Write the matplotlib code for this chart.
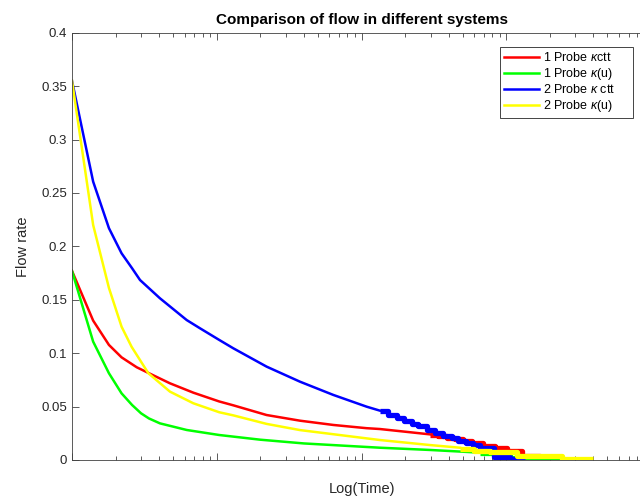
import matplotlib
matplotlib.use('Agg')
import matplotlib.pyplot as plt
from matplotlib.ticker import LogLocator, NullFormatter

plt.rcParams['font.family'] = ['Liberation Sans', 'DejaVu Sans']
plt.rcParams['mathtext.fontset'] = 'custom'
plt.rcParams['mathtext.rm'] = 'Liberation Sans'
plt.rcParams['mathtext.it'] = 'Liberation Sans:italic'

# smooth part of each flow curve
t_red = [1, 1.4, 1.8, 2.2, 2.8, 3.37, 4.75, 6.9, 10.4, 13, 22.1, 37.6, 63.9, 108, 134, 297]
q_red = [0.177, 0.1305, 0.1077, 0.0961, 0.0868, 0.0815, 0.0718, 0.063, 0.0548, 0.0512,
         0.0421, 0.0368, 0.0328, 0.0298, 0.029, 0.024]
t_green = [1, 1.4, 1.8, 2.2, 2.6, 3.0, 3.4, 4.05, 6.2, 10.4, 20, 40, 134, 297, 658]
q_green = [0.177, 0.1108, 0.0812, 0.0624, 0.0515, 0.0437, 0.0389, 0.0343, 0.0281, 0.0234,
           0.019, 0.0155, 0.0115, 0.0094, 0.0069]
t_blue = [1, 1.4, 1.8, 2.2, 2.6, 2.95, 4.05, 6.2, 7.66, 10.4, 13, 22.1, 37.6, 63.9, 108.6, 134]
q_blue = [0.355, 0.2606, 0.217, 0.1935, 0.1795, 0.1685, 0.1514, 0.131, 0.1233, 0.1124,
          0.1046, 0.0874, 0.0733, 0.0609, 0.0499, 0.0462]
t_yellow = [1, 1.4, 1.8, 2.2, 2.58, 3.37, 4.75, 6.89, 10.4, 13, 22.1, 37.6, 134, 297, 479]
q_yellow = [0.355, 0.220, 0.161, 0.1248, 0.106, 0.0812, 0.064, 0.0531, 0.0447, 0.0418,
            0.0338, 0.028, 0.0187, 0.014, 0.0115]

# quantised tails (steps)
ts_red = [297, 340, 390, 440, 500, 580, 691, 836, 1012, 1284, 1711, 2428]
qs_red = [0.0235, 0.0222, 0.0205, 0.0192, 0.0178, 0.0155, 0.0135, 0.0115, 0.0085, 0.004, 0.0005, 0.0005]
ts_green = [658, 836, 1062, 1500, 2428]
qs_green = [0.0065, 0.004, 0.0015, 0.0005, 0.0005]
ts_blue = [134, 152, 176, 197, 223, 246, 284, 322, 366, 422, 464, 527, 589, 659, 823, 1062, 1348]
qs_blue = [0.0462, 0.0421, 0.0393, 0.0368, 0.034, 0.0316, 0.0284, 0.0256, 0.0225, 0.0203,
           0.0181, 0.0159, 0.0136, 0.011, 0.003, 0.0005, 0.0005]
ts_yellow = [479, 600, 772, 1186, 2428, 3980]
qs_yellow = [0.0105, 0.0088, 0.0075, 0.0042, 0.0014, 0.0014]

labels = ['1 Probe $\\kappa$ctt', '1 Probe $\\kappa$(u)', '2 Probe $\\kappa$ ctt', '2 Probe $\\kappa$(u)']
colors = ['#ff0000', '#00ff00', '#0000ff', '#ffff00']

fig = plt.figure(figsize=(6.4, 5), dpi=100)
ax = fig.add_axes([72 / 640, 1 - 460 / 500, 579 / 640, 427.3 / 500])

series = [(t_red, q_red, ts_red, qs_red),
          (t_green, q_green, ts_green, qs_green),
          (t_blue, q_blue, ts_blue, qs_blue),
          (t_yellow, q_yellow, ts_yellow, qs_yellow)]
handles = []
for (t, q, ts, qs), c, lab in zip(series, colors, labels):
    h, = ax.plot(t, q, color=c, lw=1.8, label=lab)
    ax.plot(ts, qs, color=c, lw=3.8, drawstyle='steps-post', solid_capstyle='butt')
    handles.append(h)

ax.set_xscale('log')
ax.set_xlim(1, 1e4)
ax.set_ylim(0, 0.4)
ax.set_yticks([0, 0.05, 0.1, 0.15, 0.2, 0.25, 0.3, 0.35, 0.4])
ax.set_yticklabels(['0', '0.05', '0.1', '0.15', '0.2', '0.25', '0.3', '0.35', '0.4'])
ax.xaxis.set_major_locator(LogLocator(base=10))
ax.xaxis.set_minor_locator(LogLocator(base=10, subs=range(2, 10)))
ax.xaxis.set_major_formatter(NullFormatter())
ax.xaxis.set_minor_formatter(NullFormatter())

ax.tick_params(which='both', direction='in', top=True, right=True, colors='#404040',
               labelcolor='#262626', labelsize=9.5, width=0.6)
ax.tick_params(which='major', length=5)
ax.tick_params(which='minor', length=3)
for s in ax.spines.values():
    s.set_color('#404040')
    s.set_linewidth(0.6)

ax.set_title('Comparison of flow in different systems', fontsize=11, fontweight='bold', pad=6)
ax.set_xlabel('Log(Time)', fontsize=10.5, color='#262626', labelpad=12)
ax.set_ylabel('Flow rate', fontsize=10.5, color='#262626', labelpad=8)

leg = ax.legend(handles=handles, loc='upper left',
                bbox_to_anchor=(500 / 640, 1 - 107 / 500, 133 / 640, 60 / 500),
                bbox_transform=fig.transFigure, mode='expand', fontsize=9, fancybox=False,
                framealpha=1, edgecolor='#262626', handlelength=2.8, handletextpad=0.3,
                labelspacing=0.12, borderpad=0.35, borderaxespad=0)
leg.get_frame().set_linewidth(0.6)

fig.savefig('out.png', dpi=100)
